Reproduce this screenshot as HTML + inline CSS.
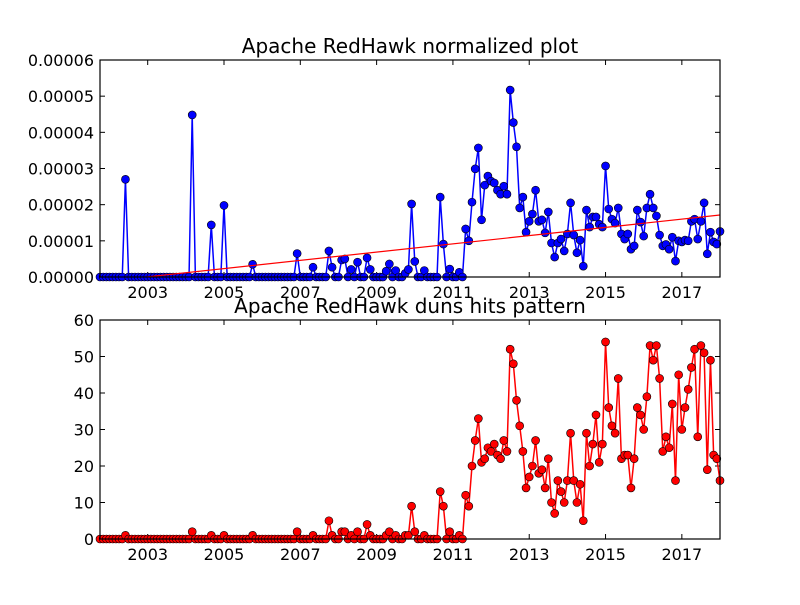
<!DOCTYPE html>
<html><head><meta charset="utf-8"><style>
body{margin:0;background:#fff;}
svg text{font-family:"DejaVu Sans","Liberation Sans",sans-serif;}
</style></head><body>
<svg id="chart" width="800" height="600" xmlns="http://www.w3.org/2000/svg">
<defs><clipPath id="clipTop"><rect x="100" y="60" width="620" height="217"/></clipPath></defs>
</svg>
<script>
const nMonths = 196;
const hitIdx = [8,29,35,39,48,62,67,72,73,76,77,79,81,84,85,90,91,93,96,97,98,99,102,107,108,110,113];
const hitVals = [1,2,1,1,1,2,1,5,1,2,2,1,2,4,1,1,2,1,1,1,9,2,1,13,9,2,1];
const normIdx = [8,29,35,39,48,62,67,72,73,76,77,79,81,84,85,90,91,93,96,97,98,99,102,107,108,110,113];
const normVals = [27,44.8,14.4,19.8,3.5,6.5,2.7,7.2,2.7,4.7,5,2.1,4.1,5.3,2.1,1.6,3.6,1.8,1,2.1,20.2,4.3,1.8,22.1,9.1,2.2,1.3];
const hitsLate = [12,9,20,27,33,21,22,25,24,26,23,22,27,24,52,48,38,31,24,14,17,20,27,18,19,14,22,10,7,16,13,10,16,29,16,10,15,5,29,20,26,34,21,26,54,36,31,29,44,22,23,23,14,22,36,34,30,39,53,49,53,44,24,28,25,37,16,45,30,36,41,47,52,28,53,51,19,49,23,22,16];
const normLate = [13.3,10,20.7,29.9,35.7,15.8,25.4,27.9,26.5,26,24,22.9,25.1,22.9,51.7,42.7,36,19.1,22.1,12.4,15.4,17.4,24,15.4,15.8,12.2,18,9.4,5.5,9.4,10.5,7.2,11.9,20.5,11.6,6.7,10.2,3,18.5,13.8,16.6,16.6,14.6,13.8,30.7,18.8,16,14.9,19.1,11.9,10.5,11.9,7.7,8.6,18.5,15.2,11.3,19.1,22.9,19.1,16.9,11.6,8.6,9,7.7,11,4.4,10,9.7,10.2,10,15.4,16,10.5,15.4,20.5,6.4,12.4,9.7,9.1,12.6];
const lateStart = 115;
const yearTicks = ["2003","2005","2007","2009","2011","2013","2015","2017"];
const topTicks = ["0.00000","0.00001","0.00002","0.00003","0.00004","0.00005","0.00006"];
const botTicks = ["0","10","20","30","40","50","60"];

const hits = new Array(nMonths).fill(0), norm = new Array(nMonths).fill(0);
hitIdx.forEach((k,j)=>hits[k]=hitVals[j]);
normIdx.forEach((k,j)=>norm[k]=normVals[j]*1e-6);
hitsLate.forEach((v,j)=>hits[lateStart+j]=v);
normLate.forEach((v,j)=>norm[lateStart+j]=v*1e-6);

const svg=document.getElementById('chart');
const NS="http://www.w3.org/2000/svg";
function mk(t,a,p){const e=document.createElementNS(NS,t);for(const k in a)e.setAttribute(k,a[k]);(p||svg).appendChild(e);return e;}
const L=100,R=720;
const xs=i=>L+i*(R-L)/(nMonths-1);
function panel(top,bot,ymax,ticks,tickVals,data,color,title,name){
  const g=mk('g',{});
  
  
  const ys=v=>bot-(v/ymax)*(bot-top);
  const t=mk('text',{x:410,y:top-7,'font-size':20,'text-anchor':'middle'},g);t.textContent=title;
  
  
  ticks.forEach((lab,j)=>{const y=ys(tickVals[j]);
    mk('line',{x1:L,x2:L+5,y1:y,y2:y,stroke:'#000'},g);mk('line',{x1:R,x2:R-5,y1:y,y2:y,stroke:'#000'},g);
    const tx=mk('text',{x:L-6,y:y+6,'font-size':16,'text-anchor':'end'},g);tx.textContent=lab;
    
    });
  yearTicks.forEach(lab=>{const x=xs((+lab-2003)*12+15);
    mk('line',{x1:x,x2:x,y1:bot,y2:bot-5,stroke:'#000'},g);mk('line',{x1:x,x2:x,y1:top,y2:top+5,stroke:'#000'},g);
    const tx=mk('text',{x:x,y:bot+21,'font-size':16,'text-anchor':'middle'},g);tx.textContent=lab;
    
    });
  const pts=data.map((v,i)=>xs(i)+','+ys(v)).join(' ');
  const pl=mk('polyline',{points:pts,fill:'none',stroke:color,'stroke-width':1.5},g);
  
  
  data.forEach((v,i)=>{const c=mk('circle',{cx:xs(i),cy:ys(v),r:4,fill:color,stroke:'#000','stroke-width':0.6},g);
    
    });
  return {g,ys};
}
const p1=panel(60,277,6e-5,topTicks,[0,1e-5,2e-5,3e-5,4e-5,5e-5,6e-5],norm,'#0000ff','Apache RedHawk normalized plot','normalized-plot');
let n=nMonths,sx=0,sy=0,sxx=0,sxy=0;norm.forEach((v,i)=>{sx+=i;sy+=v;sxx+=i*i;sxy+=i*v;});
const b=(n*sxy-sx*sy)/(n*sxx-sx*sx),a=(sy-b*sx)/n;
const fit=mk('line',{x1:xs(0),y1:p1.ys(a),x2:xs(n-1),y2:p1.ys(a+b*(n-1)),stroke:'#ff0000','stroke-width':1.2,'clip-path':'url(#clipTop)'},p1.g);


const p2=panel(320,539,60,botTicks,[0,10,20,30,40,50,60],hits,'#ff0000','Apache RedHawk duns hits pattern','hits-plot');
[[60,277],[320,539]].forEach(([t,b2])=>{const r=mk('rect',{x:L,y:t,width:R-L,height:b2-t,fill:'none',stroke:'#000','stroke-width':1.2});
  
  });
</script>
</body></html>
